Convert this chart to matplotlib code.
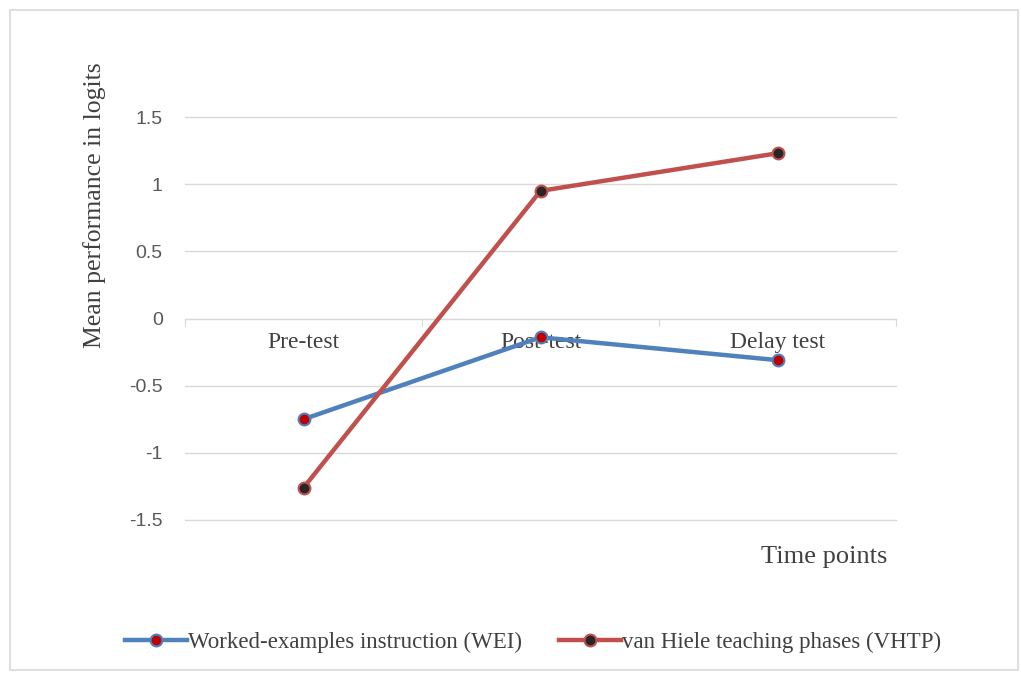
import numpy as np
import matplotlib.pyplot as plt
from matplotlib.patches import Rectangle
from matplotlib.lines import Line2D

time_points = ['Pre-test', 'Post-test', 'Delay test']
wei = [-0.75, -0.14, -0.31]
vhtp = [-1.26, 0.95, 1.23]
y_ticks = [-1.5, -1, -0.5, 0, 0.5, 1, 1.5]
y_tick_labels = ['-1.5', '-1', '-0.5', '0', '0.5', '1', '1.5']

blue = '#4F81BD'
red = '#C0504D'
grid_col = '#D9D9D9'
serif = ['Liberation Serif', 'DejaVu Serif']
sans = ['Liberation Sans', 'DejaVu Sans']

fig = plt.figure(figsize=(10.21, 6.75), dpi=100)
fig.patches.append(Rectangle((10/1021, 5/675), 1008/1021, 660/675, transform=fig.transFigure,
                             fill=False, edgecolor=grid_col, linewidth=1.2))

ax = fig.add_axes([185/1021, 1-520/675, 711/1021, 403/675])
x = np.arange(len(time_points))

ax.plot(x, wei, color=blue, lw=3.2, marker='o', ms=8.5, mfc='#C00000', mec=blue, mew=1.5,
        solid_capstyle='round', zorder=3, clip_on=False)
ax.plot(x, vhtp, color=red, lw=3.2, marker='o', ms=8.5, mfc='#262626', mec=red, mew=1.5,
        solid_capstyle='round', zorder=3, clip_on=False)

ax.set_xlim(-0.5, 2.5)
ax.set_ylim(-1.5, 1.5)
ax.set_yticks(y_ticks)
ax.set_yticklabels(y_tick_labels, family=sans, fontsize=14, color='#595959')
ax.tick_params(axis='y', length=0, pad=16)
# gridlines drawn by hand so the bottom one is not clipped
for yv in y_ticks:
    ax.axhline(yv, color=grid_col, lw=1, zorder=0, clip_on=False)

for s in ['top', 'right', 'left']:
    ax.spines[s].set_visible(False)
ax.spines['bottom'].set_position(('data', 0))
ax.spines['bottom'].set_color(grid_col)
ax.set_xticks([-0.5, 0.5, 1.5, 2.5])
ax.set_xticklabels([])
ax.tick_params(axis='x', which='major', length=5, color=grid_col, direction='out')
ax.set_xticks(x, minor=True)
ax.set_xticklabels(time_points, minor=True, family=serif, fontsize=17, color='#404040')
ax.tick_params(axis='x', which='minor', length=0, pad=10)

fig.text(95/1021, 1-205/675, 'Mean performance in logits', rotation=90, ha='center', va='center',
         family=serif, fontsize=18.5, color='#404040')
fig.text(824/1021, 1-557/675, 'Time points', ha='center', va='center',
         family=serif, fontsize=19, color='#404040')

handles = [Line2D([], [], color=blue, lw=3.2, marker='o', ms=8.5, mfc='#C00000', mec=blue, mew=1.5),
           Line2D([], [], color=red, lw=3.2, marker='o', ms=8.5, mfc='#262626', mec=red, mew=1.5)]
fig.legend(handles, ['Worked-examples instruction (WEI)', 'van Hiele teaching phases (VHTP)'],
           loc='center', bbox_to_anchor=(533/1021, 1-642/675), ncol=2, frameon=False,
           prop={'family': serif, 'size': 16.5}, handlelength=2.7, handletextpad=0.05,
           columnspacing=1.6, labelcolor='#404040')

fig.savefig('out.png', dpi=100)
